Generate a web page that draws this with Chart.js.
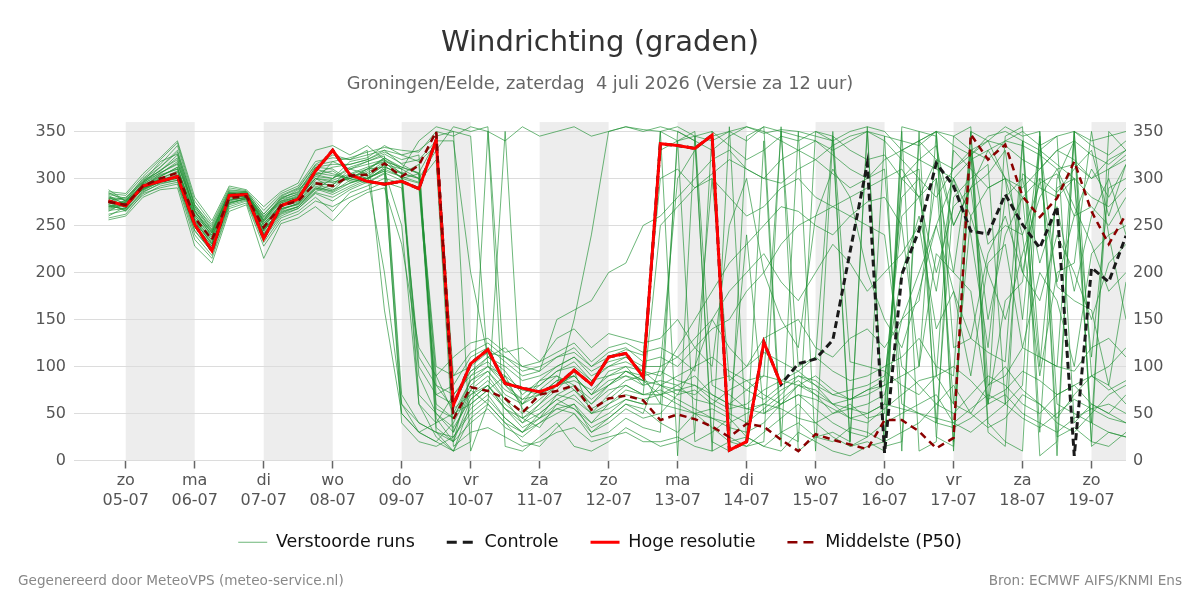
<!DOCTYPE html>
<html>
<head>
<meta charset="utf-8">
<script src="https://cdn.jsdelivr.net/npm/chart.js@4.4.1/dist/chart.umd.min.js"></script>
<style>
  body { margin: 0; background: #fff; }
  #wrap { position: relative; width: 1200px; height: 600px; }
  .foot { position: absolute; top: 572px; font: 13.6px 'DejaVu Sans', sans-serif; line-height: 16px; color: #888; }
</style>
</head>
<body>
<div id="wrap">
  <canvas id="chart" width="1200" height="600"></canvas>
  <div class="foot" style="left:18px">Gegenereerd door MeteoVPS (meteo-service.nl)</div>
  <div class="foot" style="right:18px">Bron: ECMWF AIFS/KNMI Ens</div>
</div>
<script>
// hours after 05-07 00:00, 6-hourly steps
const hours = [-6,0,6,12,18,24,30,36,42,48,54,60,66,72,78,84,90,96,102,108,114,120,126,132,138,144,150,156,162,168,174,180,186,192,198,204,210,216,222,228,234,240,246,252,258,264,270,276,282,288,294,300,306,312,318,324,330,336,342,348];

// x axis day ticks
const dayTicks = [0,24,48,72,96,120,144,168,192,216,240,264,288,312,336];
const dayNames = ['zo','ma','di','wo','do','vr','za','zo','ma','di','wo','do','vr','za','zo'];
const dayDates = ['05-07','06-07','07-07','08-07','09-07','10-07','11-07','12-07','13-07','14-07','15-07','16-07','17-07','18-07','19-07'];
const shadedDays = [0,48,96,144,192,240,288,336];
const yTicks = [0,50,100,150,200,250,300,350];

// high resolution run (ends 14-07 12h)
const hires = [276,271,292,297,302,251,223,282,283,236,271,278,308,330,304,297,294,297,289,341,59,103,118,82,77,73,80,96,81,110,114,89,337,335,332,346,11,20,126,81];

// control run (same as high res up to 14-07 12h)
const control = [276,271,292,297,302,251,223,282,283,236,271,278,308,330,304,297,294,297,289,341,59,103,118,82,77,73,80,96,81,110,114,89,337,335,332,346,11,20,126,81,
  103,108,128,222,316,8,198,245,316,292,244,241,283,251,226,270,5,205,190,239];

// median of ensemble (P50)
const median = [275,272,292,300,306,258,235,279,281,248,271,276,295,292,303,304,316,302,314,350,44,78,74,66,51,70,74,80,54,66,69,64,
  43,49,44,36,25,39,36,22,10,28,22,17,12,43,43,31,13,24,347,320,336,281,259,279,318,265,230,262];

// perturbed ensemble members
const perturbedRuns = [
  [278,270,290,305,318,262,240,283,284,252,272,280,300,298, 305,312,318,300,295,60, 45,80,95,70,60,85,90,75,60,80,95,85, 80,70,75,60,50,40,55,70,90,80,60,45,40,55, 70,85,90,60,50,80,100,75,60,45,70,90,80,60],
  [270,268,295,312,330,270,245,285,283,260,276,284,310,305, 300,308,322,310,90,50, 30,70,85,65,40,60,75,95,50,70,85,90, 60,340,350,80,70,55,60,75,85,70,50,60,45,50, 300,320,335,250,290,305,330,200,300,285,310,330,260,315],
  [265,275,288,296,300,250,225,275,278,240,265,270,290,285, 295,300,310,40,20,15, 25,55,70,45,30,50,65,55,35,45,60,55, 40,30,50,35,20,15,30,45,60,40,25,15,20,10, 350,10,20,345,355,30,15,340,5,20,350,15,30,25],
  [285,276,298,308,322,266,238,280,282,255,278,288,305,312, 315,320,330,325,318,335, 90,100,115,110,95,100,110,120,100,115,120,105, 110,100,120,140,150,180,200,230,250,260,270,280,290,300, 310,280,320,250,290,330,300,240,295,305,260,310,280,315],
  [272,266,285,295,298,245,222,273,279,238,262,268,285,280, 290,298,312,305,300,330, 355,350,355,80,60,70,85,90,70,95,100,80, 330,340,345,350,335,320,330,345,340,350,345,330,320,325, 300,280,200,270,290,150,240,280,300,190,260,270,250,280],
  [260,270,290,302,312,255,230,281,284,250,270,275,298,318, 310,305,200,60,40,30, 20,40,55,35,25,40,50,60,30,40,55,45, 50,70,100,150,180,200,220,190,170,200,230,210,180,200, 220,250,140,180,90,210,230,120,200,170,100,220,240,150],
  [280,278,300,315,335,272,250,288,286,262,282,290,315,325, 320,325,330,315,305,30, 10,60,75,90,55,45,70,80,60,75,80,70, 75,65,55,45,35,30,40,60,70,55,40,30,25,40, 50,60,70,40,30,45,60,80,350,60,50,40,30,25],
  [275,265,282,292,296,240,218,270,276,232,258,265,280,265, 285,292,300,295,100,70, 60,95,110,100,85,90,100,110,95,105,110,100, 100,300,330,345,350,340,355,350,345,340,330,340,350,345, 340,335,350,345,330,320,340,350,335,345,40,60,50,70],
  [268,274,294,304,310,260,236,284,282,246,274,279,296,296, 300,295,305,50,30,20, 40,75,60,350,45,35,60,55,40,60,70,65, 70,80,65,60,75,85,70,60,80,90,75,65,70,80, 90,100,350,120,130,115,105,340,110,100,95,120,130,110],
  [282,272,288,298,302,252,228,277,280,244,268,272,288,300, 310,315,320,305,315,45, 20,65,80,55,45,60,80,150,240,350,355,352, 350,355,345,340,350,355,348,352,350,345,340,350,355,350, 330,320,310,300,320,330,340,335,325,310,315,300,320,330],
  [276,280,296,318,326,264,242,286,285,256,280,285,312,310, 298,300,308,302,296,320, 15,30,35,25,15,20,30,35,20,25,30,20, 20,25,15,10,20,25,15,10,30,20,10,5,15,20, 355,350,345,10,350,340,355,345,350,5,350,340,345,350],
  [258,262,284,290,294,235,215,268,274,228,255,262,276,270, 280,288,296,290,110,80, 70,90,100,85,75,80,95,100,85,90,100,95, 90,120,150,180,210,230,250,270,265,250,240,260,275,280, 250,100,220,200,330,230,250,240,90,200,210,350,240,250],
  [288,276,292,300,308,258,234,280,281,250,272,278,300,290, 305,300,315,310,300,90, 50,85,95,75,65,70,85,90,70,85,90,80, 85,80,90,70,60,75,90,85,95,80,70,75,80,90, 200,260,180,300,240,120,280,300,210,270,180,260,300,240],
  [272,270,296,306,316,268,244,284,284,258,275,282,306,303, 300,310,320,60,30,40, 70,95,105,85,60,75,90,80,65,80,95,85, 350,5,345,10,355,20,340,15,350,10,345,20,355,10, 330,340,350,335,325,345,350,340,330,345,350,335,325,340],
  [266,268,290,299,304,256,232,276,280,246,266,274,294,288, 295,302,314,300,305,80, 55,70,80,60,45,55,70,65,50,60,75,70, 70,60,50,55,45,240,50,60,70,65,55,45,50,60, 55,50,40,35,45,60,70,50,40,30,45,55,60,50],
  [279,274,293,302,312,260,238,282,283,254,276,280,302,300, 318,322,335,325,330,345, 350,345,100,90,75,70,80,85,75,90,95,90, 95,85,80,70,60,55,50,65,80,75,60,55,50,60, 300,310,40,280,300,315,60,305,290,280,300,110,290,300],
  [270,276,290,296,300,248,226,274,278,242,264,270,286,294, 300,310,312,306,70,50, 35,65,80,55,40,50,65,75,55,65,80,70, 250,270,290,300,280,260,270,290,300,280,270,260,250,240, 100,80,60,50,70,90,80,60,50,70,80,60,50,40],
  [284,282,302,320,338,276,252,290,287,266,284,292,318,322, 320,330,160,50,30,20, 10,45,60,40,30,40,55,50,30,45,60,50, 100,110,95,300,85,100,115,105,95,110,350,105,100,95, 80,70,90,100,85,65,75,95,85,70,80,90,75,85],
  [262,266,286,294,298,244,222,272,277,236,260,268,284,276, 288,296,306,298,290,70, 80,110,120,105,90,95,110,115,100,110,118,112, 300,310,290,305,320,310,300,295,310,320,305,290,300,310, 60,50,45,40,55,70,60,45,35,50,65,55,45,40],
  [277,271,292,303,310,262,240,281,282,252,272,279,300,296, 302,306,318,312,306,340, 30,75,90,65,50,65,80,90,70,80,90,85, 70,75,80,65,55,60,75,85,80,70,60,65,75,80, 280,300,90,330,310,290,300,150,330,315,300,40,310,325],
  [274,273,291,300,307,257,234,279,281,249,271,276,294,293, 310,318,326,316,320,340, 340,200,110,120,100,95,150,160,170,200,210,250, 260,280,300,320,330,310,300,320,330,340,325,310,300,320, 330,340,320,310,325,340,335,320,310,330,340,325,315,330],
  [269,277,294,306,315,265,243,284,284,256,278,283,304,308, 296,300,310,302,60,40, 50,60,75,55,35,45,60,70,50,55,65,60, 60,55,50,45,40,50,60,55,45,40,50,55,60,70, 150,170,300,200,180,60,170,190,340,185,170,160,80,190],
  [281,269,289,297,303,254,230,277,280,245,268,273,290,287, 304,310,322,312,305,55, 45,85,100,80,65,80,95,105,85,100,110,95, 350,340,20,30,45,25,15,30,40,25,20,35,30,20, 30,40,60,80,50,35,45,70,60,40,30,50,70,80],
  [273,275,295,309,320,266,242,283,283,254,274,281,304,300, 312,318,324,70,40,30, 25,50,65,45,30,45,55,60,40,50,65,60, 80,75,70,85,90,75,65,80,90,85,70,65,75,85, 260,280,300,60,260,290,300,280,100,290,300,280,270,290],
  [286,284,305,322,340,280,255,292,288,270,286,295,330,335, 325,335,320,310,340,355, 350,10,60,40,20,15,35,50,25,30,45,35, 30,350,340,20,10,345,355,30,20,350,340,15,25,345, 10,340,350,20,330,60,345,355,30,300,340,20,350,330],
  [256,260,280,288,290,228,210,265,272,215,252,258,270,255, 275,285,290,230,120,90, 110,125,130,115,120,105,130,140,120,135,130,125, 130,150,120,100,250,300,200,150,120,260,310,280,200,150, 120,180,250,300,260,200,150,220,280,310,270,230,180,200],
  [279,277,297,308,325,270,246,285,285,259,279,286,312,315, 315,320,328,320,325,35, 20,90,110,95,70,85,100,110,90,100,105,95, 80,90,100,110,95,85,90,350,100,110,95,85,90,100, 110,130,100,90,350,80,90,120,110,100,350,90,100,120],
  [271,267,287,297,301,250,228,274,279,241,263,270,289,283, 292,300,308,250,60,25, 10,20,350,15,10,25,40,15,10,20,35,25, 15,20,30,350,25,15,20,355,10,25,30,20,350,15, 20,350,25,15,330,40,20,10,345,25,35,20,15,30],
  [283,279,299,312,328,272,248,287,286,262,281,289,314,318, 322,328,333,330,328,350, 345,355,350,340,355,345,350,355,345,350,355,350, 355,350,340,330,345,355,350,340,330,320,335,345,350,340, 320,300,280,310,330,340,300,290,310,330,320,300,310,320],
  [267,272,289,298,303,254,231,278,279,244,267,273,292,286, 298,304,316,306,300,100, 90,115,125,110,100,105,115,125,105,120,125,115, 120,110,130,150,120,100,130,140,150,120,110,130,140,120, 150,200,250,180,130,220,260,200,170,240,200,150,210,230]
];

const toPoints = vals => vals.map((v, i) => ({ x: hours[i], y: v }));

Chart.defaults.font.family = "'DejaVu Sans', sans-serif";

// grey background for every other day
const dayBands = {
  id: 'dayBands',
  beforeDraw(chart) {
    const { ctx, chartArea: a, scales: { x } } = chart;
    ctx.save();
    ctx.fillStyle = '#ededed';
    shadedDays.forEach(d => {
      const x0 = Math.max(x.getPixelForValue(d), a.left);
      const x1 = Math.min(x.getPixelForValue(d + 24), a.right);
      if (x1 > x0) ctx.fillRect(x0, a.top, x1 - x0, a.bottom - a.top);
    });
    ctx.restore();
  }
};

// pull the legend a bit closer to the axis labels
const legendLift = {
  id: 'legendLift',
  afterLayout(chart) {
    chart.legend.top -= 13;
    chart.legend.bottom -= 13;
  }
};

// legend samples: keep the dashes of the dashed lines
const legendItems = chart =>
  Chart.defaults.plugins.legend.labels.generateLabels(chart).map(item => {
    const ds = chart.data.datasets[item.datasetIndex];
    item.lineWidth = ds.borderWidth;
    item.strokeStyle = ds.borderColor;
    item.lineDash = ds.borderDash ? [10, 6] : [];
    return item;
  });

const runSets = perturbedRuns.map((run, i) => ({
  label: i === 0 ? 'Verstoorde runs' : '',
  data: toPoints(run),
  borderColor: 'rgba(30, 145, 50, 0.65)',
  borderWidth: 1,
  pointRadius: 0,
  order: 4
}));

const yTickSetup = s => { s.ticks = yTicks.map(v => ({ value: v })); };

new Chart(document.getElementById('chart'), {
  type: 'line',
  data: {
    datasets: [
      ...runSets,
      {
        label: 'Controle',
        data: toPoints(control),
        borderColor: '#1a1a1a',
        borderWidth: 3,
        borderDash: [7, 4],
        pointRadius: 0,
        order: 3
      },
      {
        label: 'Hoge resolutie',
        data: toPoints(hires),
        borderColor: '#ff0000',
        borderWidth: 3,
        pointRadius: 0,
        order: 2
      },
      {
        label: 'Middelste (P50)',
        data: toPoints(median),
        borderColor: '#8b0000',
        borderWidth: 2.5,
        borderDash: [7, 5],
        pointRadius: 0,
        order: 1
      }
    ]
  },
  options: {
    responsive: false,
    animation: false,
    events: [],
    layout: { padding: { left: 0, right: 0, bottom: 26 } },
    elements: { line: { tension: 0 } },
    plugins: {
      title: {
        display: true,
        text: 'Windrichting (graden)',
        color: '#333',
        font: { size: 29, weight: 'normal' },
        padding: { top: 26, bottom: 12.6 }
      },
      subtitle: {
        display: true,
        text: 'Groningen/Eelde, zaterdag  4 juli 2026 (Versie za 12 uur)',
        color: '#666',
        font: { size: 17.8 },
        padding: { top: 0, bottom: 27.3 }
      },
      legend: {
        display: true,
        position: 'bottom',
        labels: {
          color: '#111',
          font: { size: 17.5 },
          usePointStyle: true,
          pointStyle: 'line',
          pointStyleWidth: 29,
          padding: 32,
          generateLabels: legendItems,
          filter: item => item.text !== '',
          sort: (a, b) => a.datasetIndex - b.datasetIndex
        }
      },
      tooltip: { enabled: false }
    },
    scales: {
      x: {
        type: 'linear',
        min: -18,
        max: 348,
        afterBuildTicks: s => { s.ticks = dayTicks.map(v => ({ value: v })); },
        afterFit: s => { s.height = 54; },
        border: { display: false },
        grid: { drawOnChartArea: false, drawTicks: true, tickLength: 8, tickColor: '#666', tickWidth: 1.5 },
        ticks: {
          color: '#555',
          padding: 1.6,
          maxRotation: 0,
          autoSkip: false,
          font: { size: 16, lineHeight: 1.3 },
          callback: v => {
            const i = dayTicks.indexOf(v);
            return i < 0 ? '' : [dayNames[i], dayDates[i]];
          }
        }
      },
      y: {
        position: 'left',
        min: 0,
        max: 360,
        afterBuildTicks: yTickSetup,
        afterFit: s => { s.width = 74; },
        border: { display: false },
        grid: { color: '#dcdcdc', drawTicks: false },
        ticks: { color: '#555', padding: 8, font: { size: 16 } }
      },
      y2: {
        position: 'right',
        min: 0,
        max: 360,
        afterBuildTicks: yTickSetup,
        afterFit: s => { s.width = 74; },
        border: { display: false },
        grid: { drawOnChartArea: false, drawTicks: false },
        ticks: { color: '#555', padding: 7, font: { size: 16 } }
      }
    }
  },
  plugins: [dayBands, legendLift]
});
</script>
</body>
</html>
